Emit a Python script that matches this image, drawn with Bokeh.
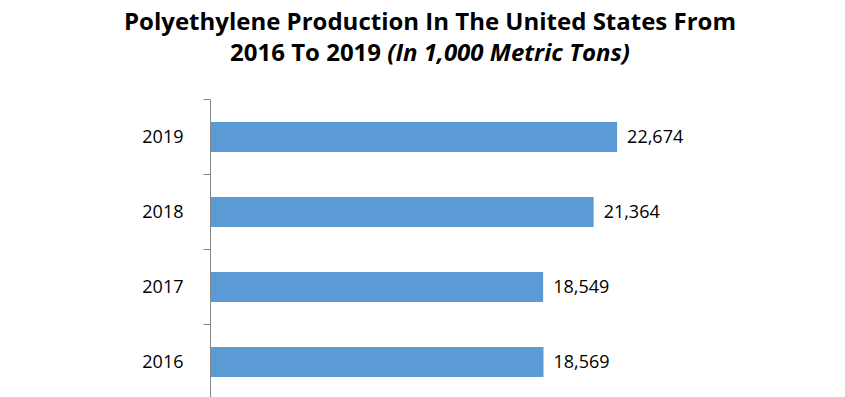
from bokeh.plotting import figure
from bokeh.models import ColumnDataSource, Range1d, FixedTicker, LabelSet, Div
from bokeh.layouts import column
from bokeh.core.properties import value
from bokeh.embed import file_html
from bokeh.resources import INLINE

years = ["2016", "2017", "2018", "2019"]
values = [18569, 18549, 21364, 22674]
value_labels = ["18,569", "18,549", "21,364", "22,674"]

title_line1 = "Polyethylene Production In The United States From"
title_line2a = "2016 To 2019"
title_line2b = "(In 1,000 Metric Tons)"

ys = [i + 0.5 for i in range(len(years))]
src = ColumnDataSource(dict(y=ys, v=values, lab=value_labels))

title = Div(
    text=f"{title_line1}<br>{title_line2a} <i>{title_line2b}</i>",
    width=845, height=61,
    styles={"font-family": "'Open Sans'", "font-weight": "bold",
            "font-size": "24px", "line-height": "31px", "color": "black",
            "text-align": "center", "padding-top": "0px", "padding-left": "5px",
            "box-sizing": "border-box", "width": "845px"},
)

p = figure(width=845, height=327, output_backend="svg", toolbar_location=None,
           x_range=Range1d(0, 30000), y_range=Range1d(0.013, len(years)),
           min_border_left=210, min_border_right=97, min_border_top=28,
           min_border_bottom=0, x_axis_type=None)
p.outline_line_color = None
p.xgrid.visible = False
p.ygrid.visible = False
p.background_fill_color = "white"
p.border_fill_color = "white"

p.hbar(y="y", right="v", left=0, height=0.4, source=src,
       fill_color="#5B9BD5", line_color=None)

ax = p.yaxis[0]
ax.ticker = FixedTicker(ticks=ys, minor_ticks=list(range(len(years) + 1)))
ax.major_label_overrides = {y: yr for y, yr in zip(ys, years)}
ax.major_tick_out = 0
ax.major_tick_in = 0
ax.minor_tick_out = 7
ax.minor_tick_in = 0
ax.minor_tick_line_color = "#868686"
ax.axis_line_color = "#868686"
ax.major_label_standoff = 20
ax.major_label_text_font = "Open Sans"
ax.major_label_text_font_size = "18px"
ax.major_label_text_color = "black"

p.add_layout(LabelSet(x="v", y="y", text="lab", source=src, x_offset=10,
                      text_baseline="middle", text_font=value("Open Sans"),
                      text_font_size=value("18px"), text_color="black"))

layout = column(title, p, spacing=0)
open("out.html", "w").write(file_html(layout, INLINE))
